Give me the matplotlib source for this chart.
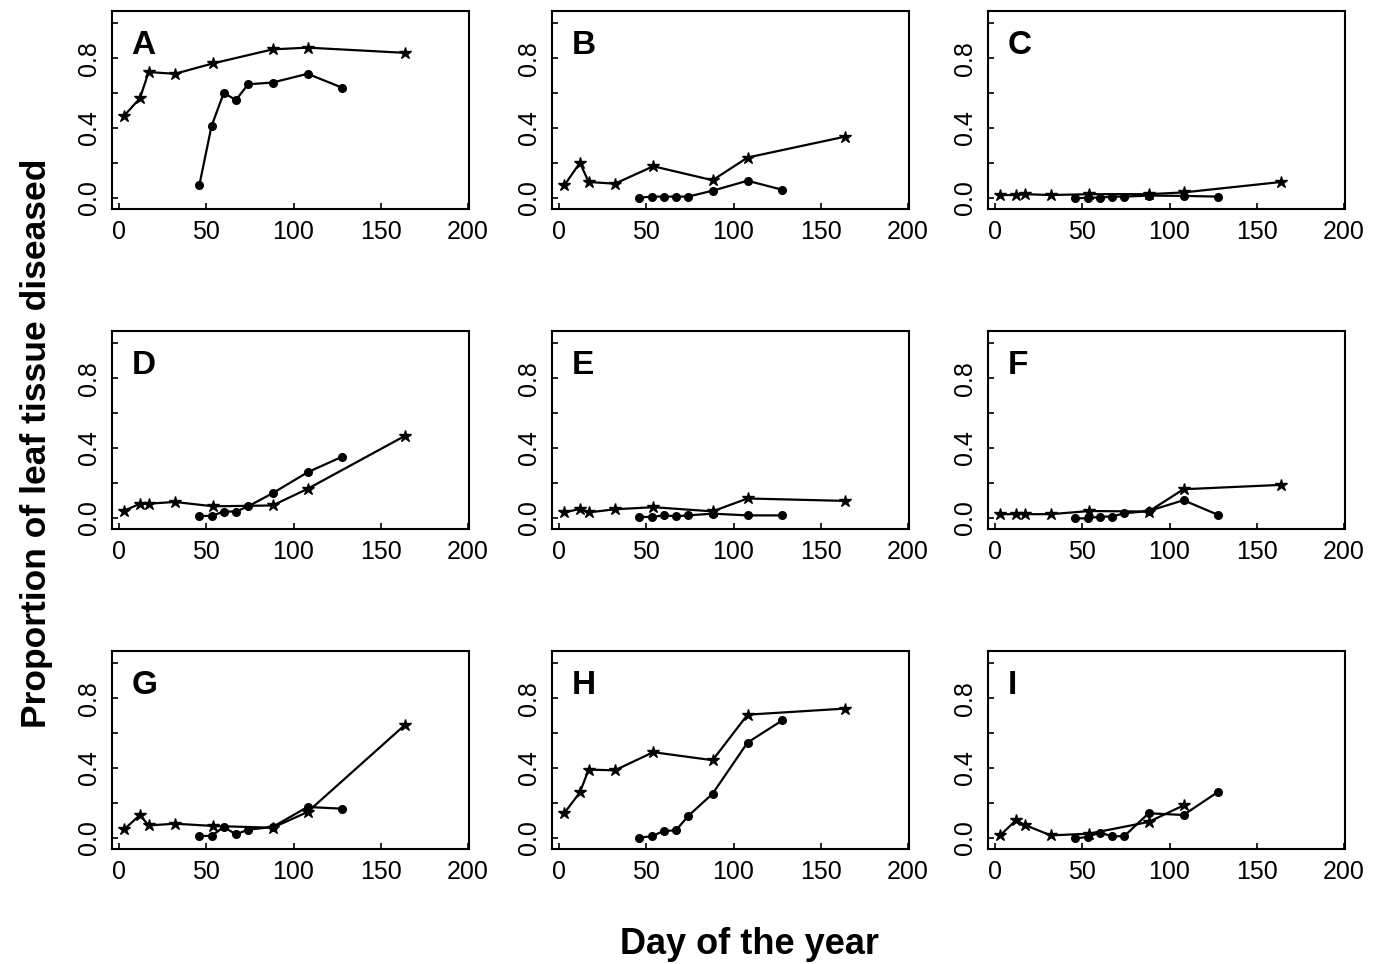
import matplotlib
matplotlib.use("Agg")
import matplotlib.pyplot as plt

plt.rcParams["font.family"] = ["Liberation Sans", "DejaVu Sans"]

# sampling days for the two series
star_days = [3, 12, 17, 32, 54, 88, 108, 164]
dot_days = [46, 53, 60, 67, 74, 88, 108, 128]

panels = ["A", "B", "C", "D", "E", "F", "G", "H", "I"]

# proportion of leaf tissue diseased, star series
star_A = [0.47, 0.57, 0.72, 0.71, 0.77, 0.85, 0.86, 0.83]
star_B = [0.07, 0.20, 0.09, 0.08, 0.18, 0.10, 0.23, 0.35]
star_C = [0.015, 0.015, 0.02, 0.015, 0.02, 0.02, 0.03, 0.09]
star_D = [0.04, 0.08, 0.08, 0.09, 0.065, 0.07, 0.165, 0.47]
star_E = [0.03, 0.05, 0.03, 0.048, 0.06, 0.036, 0.11, 0.096]
star_F = [0.02, 0.02, 0.02, 0.02, 0.038, 0.035, 0.163, 0.188]
star_G = [0.048, 0.13, 0.07, 0.08, 0.067, 0.057, 0.147, 0.648]
star_H = [0.14, 0.26, 0.39, 0.386, 0.49, 0.444, 0.705, 0.74]
star_I = [0.013, 0.10, 0.073, 0.013, 0.023, 0.09, 0.185]

# dot series
dot_A = [0.07, 0.41, 0.60, 0.56, 0.65, 0.66, 0.71, 0.63]
dot_B = [0.0, 0.006, 0.006, 0.006, 0.006, 0.04, 0.097, 0.045]
dot_C = [-0.004, 0.0, 0.0, 0.006, 0.006, 0.012, 0.01, 0.006]
dot_D = [0.01, 0.01, 0.035, 0.035, 0.065, 0.14, 0.26, 0.35]
dot_E = [0.004, 0.004, 0.013, 0.008, 0.013, 0.023, 0.013, 0.013]
dot_F = [-0.004, -0.004, 0.006, 0.006, 0.025, 0.038, 0.10, 0.015]
dot_G = [0.01, 0.01, 0.061, 0.019, 0.046, 0.061, 0.176, 0.166]
dot_H = [0.0, 0.008, 0.038, 0.042, 0.124, 0.252, 0.545, 0.673]
dot_I = [-0.004, 0.004, 0.029, 0.008, 0.008, 0.14, 0.13, 0.264]

stars = [star_A, star_B, star_C, star_D, star_E, star_F, star_G, star_H, star_I]
dots = [dot_A, dot_B, dot_C, dot_D, dot_E, dot_F, dot_G, dot_H, dot_I]

W, H = 1384, 964
fig = plt.figure(figsize=(W / 100, H / 100), dpi=100)

col_left = [112, 552, 988]
row_top = [11, 331, 651]
box_w, box_h = 357, 198

for i, name in enumerate(panels):
    r, c = divmod(i, 3)
    ax = fig.add_axes([col_left[c] / W, 1 - (row_top[r] + box_h) / H,
                       box_w / W, box_h / H])
    ax.plot(star_days[:len(stars[i])], stars[i], color="black", lw=1.6,
            marker="*", markersize=9)
    ax.plot(dot_days[:len(dots[i])], dots[i], color="black", lw=1.6,
            marker="o", markersize=5.5)

    ax.set_xlim(-4, 200.5)
    ax.set_ylim(-0.065, 1.07)
    ax.set_xticks([0, 50, 100, 150, 200])
    ax.set_yticks([0.0, 0.2, 0.4, 0.6, 0.8, 1.0])
    ax.set_yticklabels(["0.0", "", "0.4", "", "0.8", ""])
    ax.tick_params(direction="in", length=4, width=1.2, labelsize=18,
                   pad=8)
    for lab in ax.get_yticklabels():
        lab.set_rotation(90)
        lab.set_va("center")
    for sp in ax.spines.values():
        sp.set_linewidth(1.5)

    ax.text(0.055, 0.905, name, transform=ax.transAxes, fontsize=24,
            fontweight="bold", va="top", ha="left")

fig.text(37 / W, 1 - 443 / H, "Proportion of leaf tissue diseased",
         rotation=90, ha="center", va="center", fontsize=25.5,
         fontweight="bold")
fig.text(750 / W, 1 - 944 / H, "Day of the year", ha="center",
         va="center", fontsize=26, fontweight="bold")

fig.savefig("out.png", dpi=100)
